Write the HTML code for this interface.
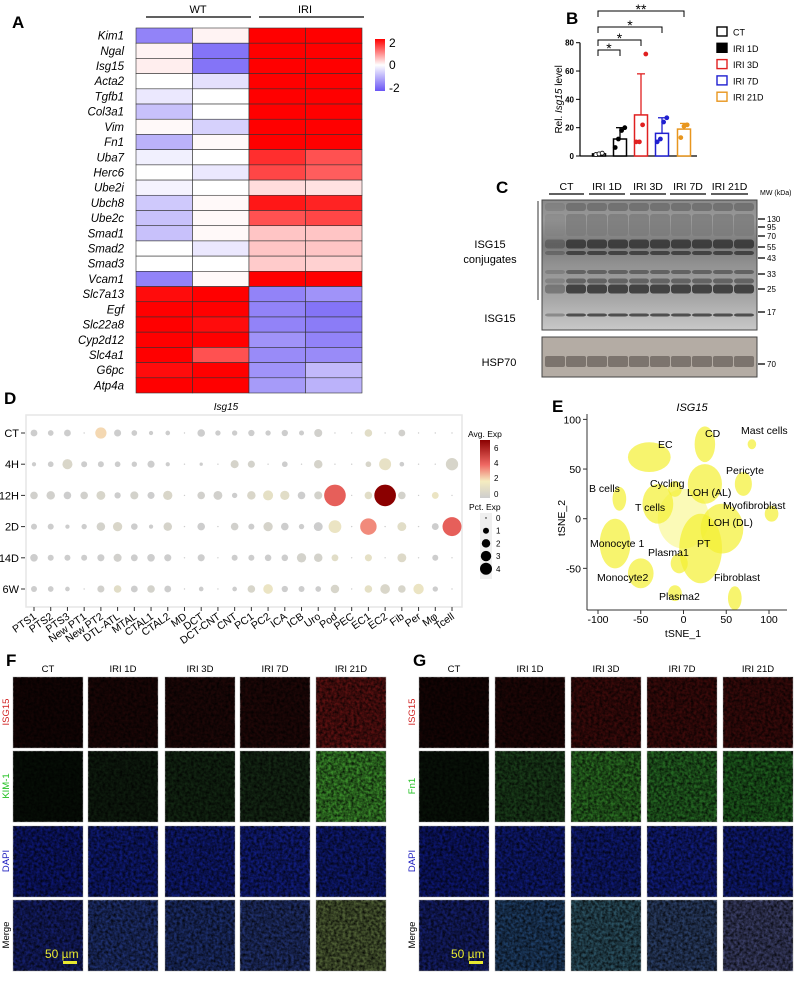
<!DOCTYPE html>
<html><head><meta charset="utf-8"><style>
body{margin:0;background:#fff}
svg{display:block;font-family:"Liberation Sans",Arial,sans-serif}
</style></head><body>
<svg id="fig" width="808" height="983" viewBox="0 0 808 983">
<defs>
<filter id="noise" x="0" y="0" width="100%" height="100%">
<feTurbulence type="fractalNoise" baseFrequency="0.35" numOctaves="2" seed="3" result="n"/>
<feColorMatrix type="matrix" values="0 0 0 0 0  0 0 0 0 0  0 0 0 0 0  1.4 0 0 0 -0.35"/>
</filter>
</defs>
<g id="A"></g>
<g id="B"></g>
<g id="C"></g>
<g id="D"></g>
<g id="E"></g>
<g id="F"></g>
<g id="G"></g>
</svg>
<script>
// ---------- Panel A data ----------
const heatGenes=["Kim1","Ngal","Isg15","Acta2","Tgfb1","Col3a1","Vim","Fn1","Uba7","Herc6","Ube2i","Ubch8","Ube2c","Smad1","Smad2","Smad3","Vcam1","Slc7a13","Egf","Slc22a8","Cyp2d12","Slc4a1","G6pc","Atp4a"];
const heatWT1=[-1.6,0.1,0.15,0,-0.3,-0.8,0.05,-1.0,-0.2,0,-0.15,-0.7,-0.8,-0.8,0,0,-1.6,2.1,2.4,2.4,2.3,2.4,2.1,2.4];
const heatWT2=[0.1,-1.8,-1.8,-0.4,0,0,-0.6,0.05,0,-0.3,0,0.05,0.05,0.05,-0.3,0,0.05,2.4,2.4,2.1,2.4,1.5,2.4,2.2];
const heatIRI1=[2.4,2.4,2.4,2.4,2.2,2.4,2.4,2.4,1.8,1.6,0.3,2.0,1.5,0.5,0.5,0.45,2.4,-1.6,-1.6,-1.6,-1.4,-1.5,-1.4,-1.3];
const heatIRI2=[2.4,2.4,2.4,2.2,2.3,2.4,2.4,2.4,1.5,1.4,0.25,1.9,1.6,0.5,0.5,0.4,2.4,-1.4,-1.8,-1.7,-1.6,-1.5,-0.9,-1.0];
// ---------- Panel B data ----------
const barGroups=["CT","IRI 1D","IRI 3D","IRI 7D","IRI 21D"];
const barMeans=[1.5,12,29,16,19];
const barErr=[2,20,58,27,23];
const barPts=[[1,1.5,2],[6,12,18,20],[10,10,22,72],[10,12,24,27],[13,21,22]];
// ---------- Panel D data ----------
const dotCells=["PTS1","PTS2","PTS3","New PT1","New PT2","DTL-ATL","MTAL","CTAL1","CTAL2","MD","DCT","DCT-CNT","CNT","PC1","PC2","ICA","ICB","Uro","Pod","PEC","EC1","EC2","Fib","Per","Mφ","Tcell"];
const dotTimes=["CT","4H","12H","2D","14D","6W"];
const pctCT=[1.3,0.9,1.3,0.05,3.5,1.4,0.9,0.5,0.6,0.05,1.6,0.8,0.8,1.1,0.8,1.1,0.7,1.8,0.05,0.05,1.6,0.05,1.3,0.05,0.05,0.05];
const pct4H=[0.5,0.9,2.8,1,1,0.9,0.8,1.4,0.5,0.05,0.3,0.05,1.8,1.4,0.05,0.9,0.05,2,0.05,0.05,0.9,4,0.6,0.05,0.05,4.2];
const pct12H=[1.6,2,1.6,1.6,2.2,1.1,1.8,1.4,2.4,0.05,1.6,2.2,0.8,2,2.8,2.4,1.6,1.8,13,0.05,1.6,13,1.6,0.05,1.3,0.05];
const pct2D=[1,1,0.5,0.8,2,2.4,1.2,0.5,2,0.05,1.6,0.05,1.6,1,2.4,1.6,0.8,2.2,4.5,0.05,7.5,0.05,2.2,0.05,1.3,10];
const pct14D=[1.6,1,1,1,1.4,1.8,1.3,1.6,1.4,0.05,1.4,0.05,1,1,1.2,1.2,2.4,2,1.3,0.05,1.4,0.05,2.2,0.05,1,0.05];
const pct6W=[1,0.9,0.6,0.05,1.4,1.6,1.3,1.6,1.3,0.05,0.6,0.05,0.6,1.6,2.6,1.1,1,0.9,2,0.05,1.6,2.6,1.6,3,0.8,0.05];
const expCT=[0,0,0,0,2.3,0,0,0,0,0,0,0,0,0,0,0,0,0.2,0,0,1,0,0.2,0,0,0];
const exp4H=[0,0,0.6,0,0,0,0,0,0,0,0,0,0.4,0.3,0,0,0,0.4,0,0,0.5,1.3,0,0,0,0.5];
const exp12H=[0.2,0.2,0,0.2,0.5,0,0.3,0,0.6,0,0.2,0.2,0,0.6,1.2,1,0,0.3,4.3,0,1,7,0.3,0,1.5,0];
const exp2D=[0,0,0,0,0.3,0.6,0,0,0.4,0,0,0,0.2,0,0.4,0,0,0,1.5,0,3.5,0,1,0,0,4.3];
const exp14D=[0,0,0,0,0,0.2,0,0,0,0,0,0,0,0,0,0,0.3,0.3,1,0,1.2,0,0.8,0,0,0];
const exp6W=[0,0,0,0,0.2,1,0,0.3,0,0,0,0,0,0.5,1.5,0,0,0,0.5,0,1.2,0.6,0.5,1.5,0,0];
// ---------- Panel E data ----------
const tsneNames=["EC","CD","Mast cells","Pericyte","Cycling","LOH (AL)","B cells","T cells","Myofibroblast","LOH (DL)","Monocyte 1","PT","Plasma1","Monocyte2","Fibroblast","Plasma2","Center"];
const tsneX=[-40,25,80,70,-10,25,-75,-30,103,45,-80,20,-5,-50,60,-10,0];
const tsneY=[62,75,75,35,30,35,20,15,5,-10,-25,-30,-45,-55,-80,-75,0];
const tsneRX=[25,12,5,10,8,20,8,18,8,25,18,25,10,15,8,8,30];
const tsneRY=[15,18,5,12,8,20,12,20,8,25,25,35,10,15,12,8,30];

const NS="http://www.w3.org/2000/svg";
function mk(parent,tag,attrs,text){const e=document.createElementNS(NS,tag);for(const k in attrs)e.setAttribute(k,attrs[k]);if(text!==undefined)e.textContent=text;parent.appendChild(e);return e;}
function lerp(a,b,t){return a+(b-a)*t}
function rgb(r,g,b){return `rgb(${Math.round(r)},${Math.round(g)},${Math.round(b)})`}

// ===== Panel A =====
(function(){
 const g=document.getElementById('A');
 let t=mk(g,'text',{x:12,y:28,'font-size':17,'font-weight':'bold'},'A');
 
 const x0=136,cw=56.5,y0=28,rh=(393-28)/heatGenes.length;
 const hx=v=>x0+v*cw, hy=i=>y0+i*rh;
 function col(v){const t=Math.max(-1,Math.min(1,v/2.2));if(t>=0)return rgb(255,lerp(255,0,t),lerp(255,0,t));const s=-t;return rgb(lerp(255,105,s),lerp(255,85,s),lerp(255,245,s));}
 const cols=[heatWT1,heatWT2,heatIRI1,heatIRI2];
 heatGenes.forEach((gname,i)=>{
  cols.forEach((arr,j)=>{
   const r=mk(g,'rect',{x:hx(j),y:hy(i),width:cw,height:rh,fill:col(arr[i]),stroke:'#333','stroke-width':0.6});
   
  });
  const l=mk(g,'text',{x:124,y:hy(i)+rh/2+4,'font-size':11.5,'font-style':'italic','text-anchor':'end'},gname);
  
 });
 mk(g,'line',{x1:146,y1:17,x2:251,y2:17,stroke:'#000','stroke-width':1.2});
 mk(g,'line',{x1:259,y1:17,x2:364,y2:17,stroke:'#000','stroke-width':1.2});
 t=mk(g,'text',{x:198,y:13,'font-size':11,'text-anchor':'middle'},'WT');
 t=mk(g,'text',{x:305,y:13,'font-size':11,'text-anchor':'middle'},'IRI');
 const defs=mk(g,'defs',{});const lg=mk(defs,'linearGradient',{id:'hg',x1:0,y1:0,x2:0,y2:1});
 mk(lg,'stop',{offset:'0','stop-color':'#ff0000'});mk(lg,'stop',{offset:'0.5','stop-color':'#ffffff'});mk(lg,'stop',{offset:'1','stop-color':'#6a55f5'});
 const cb=mk(g,'rect',{x:375,y:39,width:10,height:52,fill:'url(#hg)'});
 [['2',47],['0',69],['-2',92]].forEach(([s,y])=>{const tt=mk(g,'text',{x:389,y:y,'font-size':12},s);});
})();

// ===== Panel B =====
(function(){
 const g=document.getElementById('B');
 let t=mk(g,'text',{x:566,y:24,'font-size':17,'font-weight':'bold'},'B');
 const yb=v=>156-v/80*113.3;
 const xc=[599,620,641,662,684];
 const colors=['#000','#000','#e02020','#2020d0','#e8961e'];
 mk(g,'line',{x1:580,y1:yb(0),x2:580,y2:yb(80),stroke:'#000','stroke-width':1.2});
 mk(g,'line',{x1:580,y1:yb(0),x2:697,y2:yb(0),stroke:'#000','stroke-width':1.2});
 [0,20,40,60,80].forEach(v=>{mk(g,'line',{x1:576,y1:yb(v),x2:580,y2:yb(v),stroke:'#000'});const tt=mk(g,'text',{x:574,y:yb(v)+3,'font-size':8,'font-weight':'bold','text-anchor':'end'},v);});
 t=mk(g,'text',{x:0,y:0,'font-size':10,'text-anchor':'middle',transform:`translate(562,${yb(40)}) rotate(-90)`});
 t.innerHTML='Rel. <tspan font-style="italic">Isg15</tspan> level';
 barGroups.forEach((gn,i)=>{
  const c=colors[i];
  const b=mk(g,'rect',{x:xc[i]-6.5,y:yb(barMeans[i]),width:13,height:yb(0)-yb(barMeans[i]),fill:'#fff',stroke:c,'stroke-width':1.5});
  
  mk(g,'line',{x1:xc[i],y1:yb(barMeans[i]),x2:xc[i],y2:yb(barErr[i]),stroke:c,'stroke-width':1.3});
  mk(g,'line',{x1:xc[i]-4,y1:yb(barErr[i]),x2:xc[i]+4,y2:yb(barErr[i]),stroke:c,'stroke-width':1.3});
  barPts[i].forEach((v,k)=>{const dx=(k-(barPts[i].length-1)/2)*3.2;
   const p=mk(g,'circle',{cx:xc[i]+dx,cy:yb(v),r:2,fill:i==0?'#fff':c,stroke:c,'stroke-width':0.8});});
 });
 [[620,50],[641,40],[662,27],[684,11]].forEach(([x2,y],k)=>{
  mk(g,'path',{d:`M598,${y+6}V${y}H${x2}V${y+6}`,fill:'none',stroke:'#000','stroke-width':1});
  const s=mk(g,'text',{x:(598+x2)/2,y:y+3,'font-size':14,'text-anchor':'middle'},k==3?'**':'*');
 });
 barGroups.forEach((gn,i)=>{const y=32+i*16.3;
  const r=mk(g,'rect',{x:717,y:y-5,width:10,height:9,fill:i==1?'#000':'#fff',stroke:colors[i],'stroke-width':1.4});
  const tt=mk(g,'text',{x:733,y:y+3.5,'font-size':9},gn);});
})();

// ===== Panel C =====
(function(){
 const g=document.getElementById('C');
 let t=mk(g,'text',{x:496,y:193,'font-size':17,'font-weight':'bold'},'C');
 const lanes=[['CT',549,584],['IRI 1D',589,625],['IRI 3D',630,666],['IRI 7D',670,706],['IRI 21D',711,748]];
 lanes.forEach(([n,a,b])=>{mk(g,'line',{x1:a,y1:194,x2:b,y2:194,stroke:'#000','stroke-width':1.2});const tt=mk(g,'text',{x:(a+b)/2,y:190,'font-size':10.5,'text-anchor':'middle'},n);});
 t=mk(g,'text',{x:760,y:195,'font-size':7},'MW (kDa)');
 const defs=mk(g,'defs',{});
 const lg=mk(defs,'linearGradient',{id:'blotg',x1:0,y1:0,x2:0,y2:1});
 [[0,'#8a8a8a'],[0.15,'#9a9a9a'],[0.35,'#7a7a7a'],[0.5,'#929292'],[0.75,'#a6a6a6'],[1,'#c8c8c8']].forEach(([o,c])=>mk(lg,'stop',{offset:o,'stop-color':c}));
 const blot=mk(g,'rect',{x:542,y:200,width:215,height:130,fill:'url(#blotg)',stroke:'#444'});
 const bands=[[207,8,'#6a6a6a'],[225,22,'#7a7a7a'],[244,9,'#2e2e2e'],[253,4,'#333'],[272,4,'#555'],[281,5,'#555'],[289,9,'#2a2a2a'],[315,3,'#333']];
 bands.forEach(([y,h,c])=>{for(let i=0;i<10;i++){const x=545+i*21;const b=mk(g,'rect',{x:x,y:y-h/2,width:20,height:h,rx:3,fill:c,opacity:i<1?0.35:0.8});}});
 mk(g,'line',{x1:538,y1:201,x2:538,y2:300,stroke:'#555','stroke-width':1.2});
 t=mk(g,'text',{x:490,y:248,'font-size':11,'text-anchor':'middle'},'ISG15');
 t=mk(g,'text',{x:490,y:263,'font-size':11,'text-anchor':'middle'},'conjugates');
 t=mk(g,'text',{x:500,y:322,'font-size':11,'text-anchor':'middle'},'ISG15');
 const hsp=mk(g,'rect',{x:542,y:337,width:215,height:40,fill:'#b4aca4',stroke:'#444'});
 for(let i=0;i<10;i++){mk(g,'rect',{x:545+i*21,y:356,width:20,height:11,rx:2,fill:'#6e6660',opacity:0.8});}
 t=mk(g,'text',{x:499,y:366,'font-size':11,'text-anchor':'middle'},'HSP70');
 [['130',219],['95',227],['70',236],['55',247],['43',258],['33',274],['25',289],['17',312],['70',364]].forEach(([s,y])=>{mk(g,'line',{x1:758,y1:y,x2:765,y2:y,stroke:'#000','stroke-width':1.3});const tt=mk(g,'text',{x:767,y:y+3,'font-size':8},s);});
})();

// ===== Panel D =====
(function(){
 const g=document.getElementById('D');
 let t=mk(g,'text',{x:4,y:404,'font-size':17,'font-weight':'bold'},'D');
 t=mk(g,'text',{x:226,y:410,'font-size':10,'font-style':'italic','text-anchor':'middle'},'Isg15');
 const box=mk(g,'rect',{x:26,y:415,width:436,height:192,fill:'#fff',stroke:'#e6e6e6','stroke-width':1.5});
 const dx=i=>34+i*(418/25), dy=j=>433+j*31.2;
 const pcts=[pctCT,pct4H,pct12H,pct2D,pct14D,pct6W], exps=[expCT,exp4H,exp12H,exp2D,exp14D,exp6W];
 function ecol(v){const s=[[0,[205,205,205]],[2,[245,236,192]],[4,[240,105,100]],[7,[139,0,0]]];for(let k=0;k<s.length-1;k++){if(v<=s[k+1][0]){const t=(v-s[k][0])/(s[k+1][0]-s[k][0]);return rgb(lerp(s[k][1][0],s[k+1][1][0],t),lerp(s[k][1][1],s[k+1][1][1],t),lerp(s[k][1][2],s[k+1][1][2],t));}}return rgb(139,0,0);}
 dotTimes.forEach((tm,j)=>{
  const l=mk(g,'text',{x:19,y:dy(j)+4,'font-size':11,'text-anchor':'end'},tm);
  mk(g,'line',{x1:21,y1:dy(j),x2:25,y2:dy(j),stroke:'#333'});
  dotCells.forEach((c,i)=>{const r=Math.max(0.7,3*Math.sqrt(pcts[j][i]));
   const d=mk(g,'circle',{cx:dx(i),cy:dy(j),r:r,fill:ecol(exps[j][i])});});
 });
 dotCells.forEach((c,i)=>{mk(g,'line',{x1:dx(i),y1:607,x2:dx(i),y2:611,stroke:'#333'});
  const l=mk(g,'text',{x:dx(i)+3,y:618,'font-size':10.5,'text-anchor':'end',transform:`rotate(-35 ${dx(i)+3} 618)`},c);});
 t=mk(g,'text',{x:468,y:437,'font-size':8.5},'Avg. Exp');
 const defs=mk(g,'defs',{});const lg=mk(defs,'linearGradient',{id:'dg',x1:0,y1:1,x2:0,y2:0});
 [[0,'#cdcdcd'],[0.29,'#f5ecc0'],[0.57,'#f06964'],[1,'#8b0000']].forEach(([o,c])=>mk(lg,'stop',{offset:o,'stop-color':c}));
 const cb=mk(g,'rect',{x:480,y:440,width:10,height:58,fill:'url(#dg)'});
 [['6',451],['4',466],['2',481],['0',497]].forEach(([s,y])=>{const tt=mk(g,'text',{x:494,y:y,'font-size':8},s);});
 t=mk(g,'text',{x:469,y:510,'font-size':8.5},'Pct. Exp');
 mk(g,'rect',{x:480,y:513,width:12,height:66,fill:'#efefef'});
 [0,1,2,3,4].forEach((p,k)=>{const y=518+k*12.7;mk(g,'circle',{cx:486,cy:y,r:Math.max(0.7,3*Math.sqrt(p)),fill:'#000'});const tt=mk(g,'text',{x:496,y:y+3,'font-size':8},p);});
})();

// ===== Panel E =====
(function(){
 const g=document.getElementById('E');
 let t=mk(g,'text',{x:552,y:412,'font-size':17,'font-weight':'bold'},'E');
 t=mk(g,'text',{x:692,y:411,'font-size':11,'font-style':'italic','text-anchor':'middle'},'ISG15');
 const ex=v=>683.5+v*0.855, ey=v=>518.7-v*0.993;
 tsneNames.forEach((n,i)=>{const e=mk(g,'ellipse',{cx:ex(tsneX[i]),cy:ey(tsneY[i]),rx:tsneRX[i]*0.855,ry:tsneRY[i]*0.993,fill:'#f4f030',opacity:i==16?0.35:0.7});});
 mk(g,'line',{x1:587,y1:414,x2:587,y2:610,stroke:'#333'});mk(g,'line',{x1:587,y1:610,x2:787,y2:610,stroke:'#333'});
 [-100,-50,0,50,100].forEach(v=>{mk(g,'line',{x1:ex(v),y1:610,x2:ex(v),y2:614,stroke:'#333'});const tt=mk(g,'text',{x:ex(v),y:623,'font-size':10.5,'text-anchor':'middle'},v);});
 [-50,0,50,100].forEach(v=>{mk(g,'line',{x1:583,y1:ey(v),x2:587,y2:ey(v),stroke:'#333'});const tt=mk(g,'text',{x:581,y:ey(v)+4,'font-size':10.5,'text-anchor':'end'},v);});
 t=mk(g,'text',{x:683,y:637,'font-size':10.5,'text-anchor':'middle'},'tSNE_1');
 t=mk(g,'text',{x:0,y:0,'font-size':10.5,'text-anchor':'middle',transform:'translate(565,518) rotate(-90)'},'tSNE_2');
 const labs=[['EC',658,448],['CD',705,437],['Mast cells',741,434],['Pericyte',726,474],['Cycling',650,487],['LOH (AL)',687,496],['B cells',589,492],['T cells',635,511],['Myofibroblast',723,509],['LOH (DL)',708,526],['Monocyte 1',590,547],['PT',697,547],['Plasma1',648,556],['Monocyte2',597,581],['Fibroblast',714,581],['Plasma2',659,600]];
 labs.forEach(([n,x,y])=>{const tt=mk(g,'text',{x:x,y:y,'font-size':10.5},n);});
})();

// ===== Panels F, G =====
function tiles(id,letter,lx,colsX,marker2,rowColors){
 const g=document.getElementById(id);
 let t=mk(g,'text',{x:lx,y:666,'font-size':17,'font-weight':'bold'},letter);
 const heads=['CT','IRI 1D','IRI 3D','IRI 7D','IRI 21D'];
 const rowsY=[677,751,826,900];
 heads.forEach((h,i)=>{const tt=mk(g,'text',{x:colsX[i]+35,y:672,'font-size':9.5,'text-anchor':'middle'},h);});
 const rl=[['ISG15','#d02020'],[marker2,'#20c020'],['DAPI','#2020c0'],['Merge','#000']];
 rl.forEach(([s,c],j)=>{const tt=mk(g,'text',{x:0,y:0,'font-size':9.5,fill:c,'text-anchor':'middle',transform:`translate(${colsX[0]-4},${rowsY[j]+35}) rotate(-90)`},s);});
 rowsY.forEach((y,j)=>colsX.forEach((x,i)=>{
  const c=rowColors[j][i];
  const r=mk(g,'rect',{x:x,y:y,width:70,height:71,fill:c,stroke:'#bbb','stroke-width':0.6});
  
  mk(g,'rect',{x:x,y:y,width:70,height:71,fill:'#000',filter:'url(#noise)'});
 }));
 return g;
}
const fCols=[13,88,165,240,316], gCols=[419,495,571,647,723];
tiles('F','F',6,fCols,'KIM-1',[
 ['#140404','#1c0606','#1e0707','#200707','#5a1010'],
 ['#060e06','#0e1c0e','#122612','#142814','#3a8a2a'],
 ['#0c1670','#0e1a76','#0e1a76','#101c7c','#0e1a76'],
 ['#141e6a','#1e3070','#1c2e6c','#20306c','#4e5e34']]);
tiles('G','G',413,gCols,'Fn1',[
 ['#160404','#200606','#3c0a0a','#3c0a0a','#3a0a0a'],
 ['#081208','#1a3e1a','#2a6e22','#246622','#1e5e1e'],
 ['#0c1670','#0e1a76','#0e1a76','#101c7c','#0e1a76'],
 ['#141e6a','#1e3e66','#2a5060','#2a3e66','#3a3e66']]);
// scale bars
[[45,964,'F'],[451,964,'G']].forEach(([x,y,n])=>{const s=document.getElementById(n);
 const tt=mk(s,'text',{x:x,y:y-6,'font-size':12,fill:'#e8e830'},'50 µm');
 const b=mk(s,'rect',{x:x+18,y:y-3,width:14,height:3,fill:'#e8e830'});});
</script>
</body></html>
